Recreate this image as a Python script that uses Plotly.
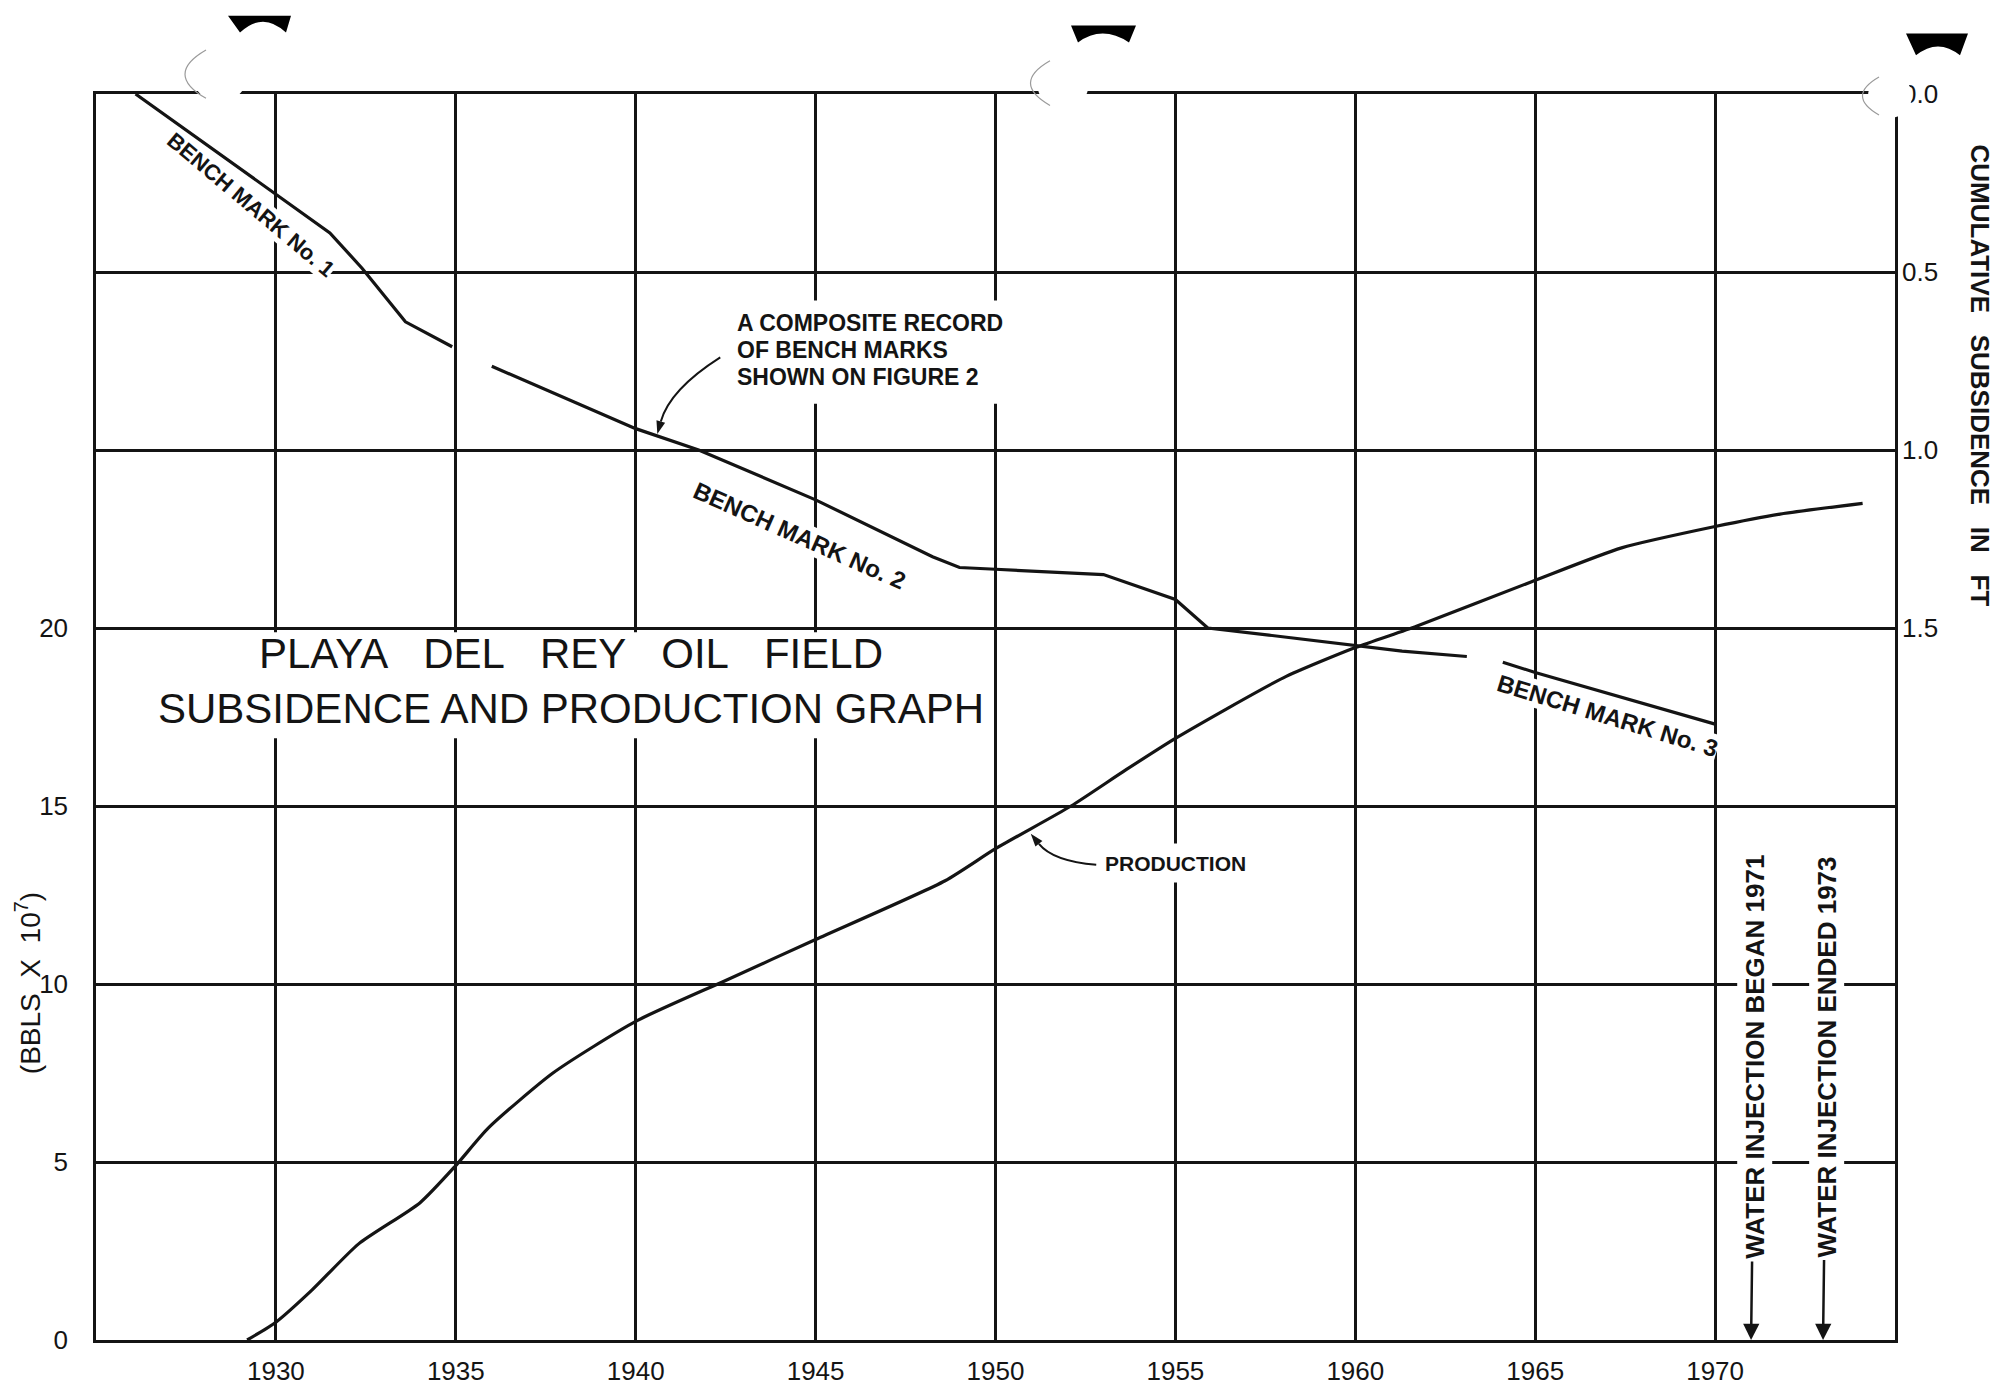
import math
import plotly.graph_objects as go

# cumulative production (left axis, bbls x 10^7)
prod_years = [1929.2, 1930.0, 1931.0, 1932.3, 1934.0, 1935.0, 1935.9, 1937.7, 1940.0,
              1942.5, 1945.0, 1948.6, 1950.0, 1952.1, 1953.6, 1955.0, 1958.0, 1960.0,
              1961.7, 1964.9, 1967.4, 1970.0, 1971.8, 1974.1]
prod_vals = [0.0, 0.5, 1.4, 2.7, 3.85, 4.9, 5.95, 7.5, 8.95,
             10.1, 11.25, 12.9, 13.8, 15.0, 16.0, 16.9, 18.6, 19.45,
             20.05, 21.3, 22.25, 22.85, 23.2, 23.5]

# cumulative subsidence (right axis, ft)
bm1_years = [1926.1, 1930.0, 1931.5, 1932.4, 1933.6, 1934.9]
bm1_vals = [0.0, 0.28, 0.39, 0.49, 0.64, 0.71]

bm2_years = [1936.0, 1940.0, 1941.75, 1945.0, 1948.25, 1949.0, 1950.0, 1953.0,
             1955.0, 1955.9, 1957.6, 1960.0, 1961.3, 1963.1]
bm2_vals = [0.765, 0.94, 1.0, 1.14, 1.30, 1.33, 1.335, 1.35,
            1.42, 1.50, 1.52, 1.55, 1.565, 1.58]

bm3_years = [1964.1, 1965.0, 1970.0]
bm3_vals = [1.596, 1.625, 1.77]

x_ticks = [1930, 1935, 1940, 1945, 1950, 1955, 1960, 1965, 1970]
left_ticks = [0, 5, 10, 15, 20]
right_ticks = [0.0, 0.5, 1.0, 1.5]
right_labels = ["0.0", "0.5", "1.0", "1.5"]

INK = "#141414"
FONT = "Liberation Sans, Arial, sans-serif"
W, H = 2004, 1390
L, R, T, B = 88, 117, 86, 47
SP = "\u00a0\u00a0 "
PX_X = (W - L - R) / 50.0           # px per year
PX_Y = (H - T - B) / 35.0           # px per unit, left axis
PX_Y2 = -(H - T - B) / 3.5          # px per ft, right axis (reversed)

fig = go.Figure()

fig.add_trace(go.Scatter(x=prod_years, y=prod_vals, mode="lines",
                         line=dict(color=INK, width=3.2, shape="spline", smoothing=0.6),
                         name="Production"))
for xs, ys in [(bm1_years, bm1_vals), (bm2_years, bm2_vals), (bm3_years, bm3_vals)]:
    fig.add_trace(go.Scatter(x=xs, y=ys, mode="lines", yaxis="y2",
                             line=dict(color=INK, width=3.2), showlegend=False))


def paper(px, py):
    return (px - L) / (W - L - R), (H - B - py) / (H - T - B)


shapes = []
# white patches where lettering breaks the grid
shapes.append(dict(type="rect", xref="x", yref="y", x0=1926.5, x1=1949.8, y0=16.9, y1=19.88,
                   fillcolor="white", line_width=0, layer="above"))
shapes.append(dict(type="rect", xref="x", yref="y2", x0=1942.8, x1=1951.2, y0=0.58, y1=0.87,
                   fillcolor="white", line_width=0, layer="above"))
shapes.append(dict(type="rect", xref="x", yref="y", x0=1953.0, x1=1957.6, y0=12.85, y1=13.95,
                   fillcolor="white", line_width=0, layer="above"))


# curved leader line with a small filled head at the tip
def leader(start, ctrl, tip, yref, sy, size=13, half=4.5):
    dx = (tip[0] - ctrl[0]) * PX_X
    dy = -(tip[1] - ctrl[1]) * sy
    n = math.hypot(dx, dy)
    ux, uy = dx / n, dy / n
    bx, by = -size * ux, -size * uy
    px_, py_ = -uy, ux

    def to_data(ox, oy):
        return tip[0] + ox / PX_X, tip[1] - oy / sy

    base = to_data(bx, by)
    c1 = to_data(bx + half * px_, by + half * py_)
    c2 = to_data(bx - half * px_, by - half * py_)
    shapes.append(dict(type="path", xref="x", yref=yref,
                       path=f"M {start[0]},{start[1]} Q {ctrl[0]},{ctrl[1]} {base[0]},{base[1]}",
                       line=dict(color=INK, width=2)))
    shapes.append(dict(type="path", xref="x", yref=yref,
                       path=f"M {tip[0]},{tip[1]} L {c1[0]},{c1[1]} L {c2[0]},{c2[1]} Z",
                       fillcolor=INK, line_width=0))


leader((1942.35, 0.74), (1940.95, 0.83), (1940.6, 0.955), "y2", PX_Y2)
leader((1952.8, 13.35), (1951.6, 13.45), (1950.98, 14.22), "y", PX_Y)


# punch-hole marks of the scanned sheet
def hole(cx, cy, r, blob):
    x0, y0 = paper(cx - r, cy + r)
    x1, y1 = paper(cx + r, cy - r)
    shapes.append(dict(type="circle", xref="paper", yref="paper", x0=x0, y0=y0, x1=x1, y1=y1,
                       fillcolor="white", line_width=0, layer="above"))
    a = paper(cx - 0.5 * r, cy - 0.87 * r)
    c = paper(cx - 2 * r, cy)
    b = paper(cx - 0.5 * r, cy + 0.87 * r)
    shapes.append(dict(type="path", xref="paper", yref="paper",
                       path=f"M {a[0]},{a[1]} Q {c[0]},{c[1]} {b[0]},{b[1]}",
                       line=dict(color="#9a9a9a", width=1.2), layer="above"))
    p = [paper(*q) for q in blob]
    shapes.append(dict(type="path", xref="paper", yref="paper",
                       path=(f"M {p[0][0]},{p[0][1]} L {p[1][0]},{p[1][1]} L {p[2][0]},{p[2][1]} "
                             f"Q {p[3][0]},{p[3][1]} {p[4][0]},{p[4][1]} Z"),
                       fillcolor="black", line_width=0, layer="above"))


hole(212, 66, 28, [(220, 7), (283, 7), (278, 24), (255, 2), (232, 24)])
hole(1055, 75, 26, [(1063, 17), (1128, 17), (1121, 34), (1094, 16), (1070, 34)])
hole(1882, 88, 22, [(1898, 25), (1960, 25), (1952, 47), (1930, 29), (1908, 47)])

ann = []
tf = dict(family=FONT, color=INK)
bf = dict(family=FONT, color=INK, weight="bold")
ann.append(dict(x=1938.2, y=19.27, xref="x", yref="y",
                text=SP.join(["PLAYA", "DEL", "REY", "OIL", "FIELD"]),
                showarrow=False, font=dict(tf, size=42)))
ann.append(dict(x=1938.2, y=17.74, xref="x", yref="y", text="SUBSIDENCE AND PRODUCTION GRAPH",
                showarrow=False, font=dict(tf, size=42)))
for i, line in enumerate(["A COMPOSITE RECORD", "OF BENCH MARKS", "SHOWN ON FIGURE 2"]):
    ann.append(dict(x=1942.75, y=0.642 + i * 0.076, xref="x", yref="y2", text=line,
                    xanchor="left", yanchor="middle",
                    showarrow=False, font=dict(bf, size=23)))
ann.append(dict(x=1953.0, y=13.39, xref="x", yref="y", text="PRODUCTION", xanchor="left",
                yanchor="middle", showarrow=False, font=dict(bf, size=21)))
ann.append(dict(x=1929.3, y=0.31, xref="x", yref="y2", text="BENCH MARK No. 1", textangle=40,
                showarrow=False, bgcolor="white", borderpad=0, font=dict(bf, size=22)))
ann.append(dict(x=1944.55, y=1.24, xref="x", yref="y2", text="BENCH MARK No. 2", textangle=24,
                showarrow=False, bgcolor="white", borderpad=0, font=dict(bf, size=24)))
ann.append(dict(x=1967.0, y=1.745, xref="x", yref="y2", text="BENCH MARK No. 3", textangle=17,
                showarrow=False, bgcolor="white", borderpad=0, font=dict(bf, size=24)))
for yr, label in [(1971, "WATER INJECTION BEGAN 1971"), (1973, "WATER INJECTION ENDED 1973")]:
    ann.append(dict(x=yr, y=0, xref="x", yref="y", ax=yr + 0.1, ay=7.95, axref="x", ayref="y",
                    text=label, textangle=-90, showarrow=True, arrowhead=2, arrowsize=1.3,
                    arrowwidth=2.5, arrowcolor=INK, bgcolor="white", borderpad=2,
                    font=dict(bf, size=26)))
rx, ry = paper(1972, 370)
ann.append(dict(x=rx, y=ry, xref="paper", yref="paper", xanchor="center", yanchor="middle",
                text=SP.join(["CUMULATIVE", "SUBSIDENCE", "IN", "FT"]), textangle=90,
                showarrow=False, font=dict(bf, size=26)))
lx, ly = paper(20, 983)
ann.append(dict(x=lx, y=ly, xref="paper", yref="paper", xanchor="center", yanchor="middle",
                text="(BBLS\u00a0\u00a0X\u00a0\u00a010<sup>7</sup>)", textangle=-90,
                showarrow=False, font=dict(tf, size=28)))

fig.update_layout(
    width=W, height=H,
    margin=dict(l=L, r=R, t=T, b=B),
    paper_bgcolor="white", plot_bgcolor="white",
    showlegend=False,
    font=dict(family=FONT, size=26, color=INK),
    xaxis=dict(range=[1925, 1975], tickvals=x_ticks, ticktext=[str(v) for v in x_ticks],
               showgrid=True, gridcolor=INK, gridwidth=2.5,
               showline=True, linecolor=INK, linewidth=2.5, mirror=True,
               ticks="", ticklabelstandoff=6, zeroline=False),
    yaxis=dict(range=[0, 35], tickvals=left_ticks, ticktext=[str(v) for v in left_ticks],
               showgrid=True, gridcolor=INK, gridwidth=2.5,
               showline=True, linecolor=INK, linewidth=2.5, mirror=True,
               ticks="", ticklabelstandoff=20, zeroline=False),
    yaxis2=dict(range=[3.5, 0], overlaying="y", side="right", tickvals=right_ticks,
                ticktext=right_labels, showgrid=True, gridcolor=INK, gridwidth=2.5,
                showline=False, ticks="", ticklabelstandoff=6, zeroline=False),
    shapes=shapes,
    annotations=ann,
)

fig.write_html("out.html")
